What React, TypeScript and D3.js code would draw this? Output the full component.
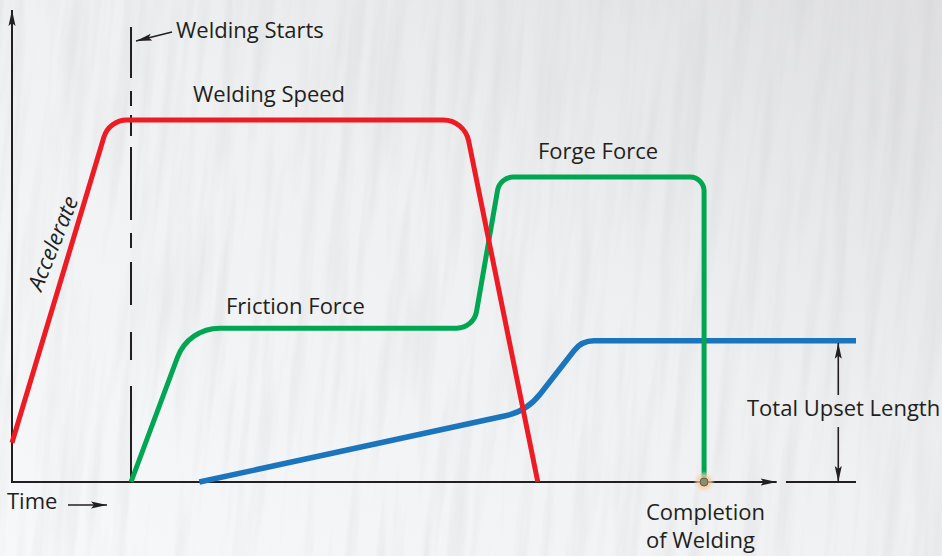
import React from 'react';
import * as d3 from 'd3';

const W = 942;
const H = 556;

// time (0-100) vs level (0-100)
const weldingSpeed = [
  { t: 0, v: 8.3 },
  { t: 11.5, v: 76.7 },
  { t: 53.6, v: 76.7 },
  { t: 62.3, v: 0 },
];
const weldingForce = [
  { t: 14.1, v: 0 },
  { t: 20.9, v: 32.6 },
  { t: 54.7, v: 32.6 },
  { t: 57.8, v: 64.6 },
  { t: 82.0, v: 64.6 },
  { t: 82.0, v: 0 },
];
const upsetLength = [
  { t: 22.2, v: 0 },
  { t: 61.0, v: 15.0 },
  { t: 67.5, v: 29.9 },
  { t: 100, v: 29.9 },
];
const weldStartT = 14.1;
const weldEndT = 82.0;
const timeAxisEnd = 90.6;
const upsetBaseline = [91.7, 100];
const upsetMarkerT = 97.9;

type Pt = { t: number; v: number };

export default function App() {
  const x = d3.scaleLinear().domain([0, 100]).range([12, 856]);
  const y = d3.scaleLinear().domain([0, 100]).range([482, 10]);

  // polyline with rounded corners (d3.path arcTo)
  const rounded = (data: Pt[], radii: number[]) => {
    const pts = data.map(d => [x(d.t), y(d.v)]);
    const p = d3.path();
    p.moveTo(pts[0][0], pts[0][1]);
    for (let i = 1; i < pts.length - 1; i++) {
      p.arcTo(pts[i][0], pts[i][1], pts[i + 1][0], pts[i + 1][1], radii[i - 1]);
    }
    p.lineTo(pts[pts.length - 1][0], pts[pts.length - 1][1]);
    return p.toString();
  };

  const ink = '#231f20';
  const font = "'Open Sans', 'DejaVu Sans', sans-serif";
  const fs = 22;

  return (
    <svg width={W} height={H} style={{ position: 'absolute', left: 0, top: 0, display: 'block' }}
      fontFamily={font}>
      <defs>
        <linearGradient id="bg" x1="0" y1="1" x2="1" y2="0">
          <stop offset="0" stopColor="#f6f8f9" />
          <stop offset="0.55" stopColor="#eef0f1" />
          <stop offset="1" stopColor="#dfdfe1" />
        </linearGradient>
        <filter id="brush" x="0" y="0" width="100%" height="100%">
          <feTurbulence type="fractalNoise" baseFrequency="0.07 0.005" numOctaves={3} seed={7} />
          <feColorMatrix type="matrix"
            values="0 0 0 0 0.6  0 0 0 0 0.6  0 0 0 0 0.62  0 0 0 -1.8 1.05" />
        </filter>
        <radialGradient id="glow">
          <stop offset="0" stopColor="#f6b98a" stopOpacity="0.9" />
          <stop offset="0.6" stopColor="#f9cfa9" stopOpacity="0.7" />
          <stop offset="1" stopColor="#fbe2cc" stopOpacity="0" />
        </radialGradient>
        <marker id="ah" viewBox="0 0 16 8" refX="16" refY="4" markerWidth="16" markerHeight="8"
          orient="auto" markerUnits="userSpaceOnUse">
          <path d="M0,0.5 L16,4 L0,7.5 L3,4 Z" fill={ink} />
        </marker>
      </defs>

      <rect width={W} height={H} fill="url(#bg)" />
      <g transform="rotate(5 471 278)">
        <rect x={-150} y={-150} width={W + 300} height={H + 300} filter="url(#brush)" opacity={0.32} />
      </g>

      {/* axes */}
      <line x1={x(0)} y1={y(0)} x2={x(0)} y2={y(100)} stroke={ink} strokeWidth={2} markerEnd="url(#ah)" />
      <line x1={x(0) - 1} y1={y(0)} x2={x(timeAxisEnd)} y2={y(0)} stroke={ink} strokeWidth={2} markerEnd="url(#ah)" />
      <line x1={x(upsetBaseline[0])} y1={y(0)} x2={x(upsetBaseline[1])} y2={y(0)} stroke={ink} strokeWidth={2} />

      {/* welding starts */}
      <line x1={x(weldStartT)} y1={27} x2={x(weldStartT)} y2={y(0)} stroke={ink} strokeWidth={2}
        strokeDasharray="51 13 15 9 21 11 73 13 15 14 43 27 28 26 96" />
      <line x1={172} y1={32} x2={136} y2={41} stroke={ink} strokeWidth={1.6} markerEnd="url(#ah)" />

      {/* series */}
      <path d={rounded(upsetLength, [60, 25])} fill="none" stroke="#1b75bc" strokeWidth={5.5} />
      <path d={rounded(weldingForce, [45, 20, 16, 14])} fill="none" stroke="#00a651" strokeWidth={5} />
      <path d={rounded(weldingSpeed, [24, 26])} fill="none" stroke="#ed1c24" strokeWidth={5} />

      {/* completion point */}
      <circle cx={x(weldEndT)} cy={y(0)} r={11} fill="url(#glow)" />
      <circle cx={x(weldEndT)} cy={y(0)} r={4} fill="#8b8e6e" stroke="#6b5a4a" strokeWidth={1} />

      {/* total upset length dimension */}
      <line x1={x(upsetMarkerT)} y1={395} x2={x(upsetMarkerT)} y2={y(29.9) + 2} stroke={ink} strokeWidth={1.6} markerEnd="url(#ah)" />
      <line x1={x(upsetMarkerT)} y1={427} x2={x(upsetMarkerT)} y2={y(0)} stroke={ink} strokeWidth={1.6} markerEnd="url(#ah)" />

      {/* time arrow */}
      <line x1={68} y1={505} x2={107} y2={505} stroke={ink} strokeWidth={1.6} markerEnd="url(#ah)" />

      {/* labels */}
      <g fill={ink} fontSize={fs}>
        <text x={176} y={38}>Welding Starts</text>
        <text x={193} y={102}>Welding Speed</text>
        <text x={538} y={159}>Forge Force</text>
        <text x={226} y={314}>Friction Force</text>
        <text x={747} y={416}>Total Upset Length</text>
        <text x={7} y={509}>Time</text>
        <text x={646} y={520}>Completion</text>
        <text x={646} y={548}>of Welding</text>
        <text transform="translate(60 246) rotate(-68)" textAnchor="middle" fontStyle="italic">Accelerate</text>
      </g>
    </svg>
  );
}
